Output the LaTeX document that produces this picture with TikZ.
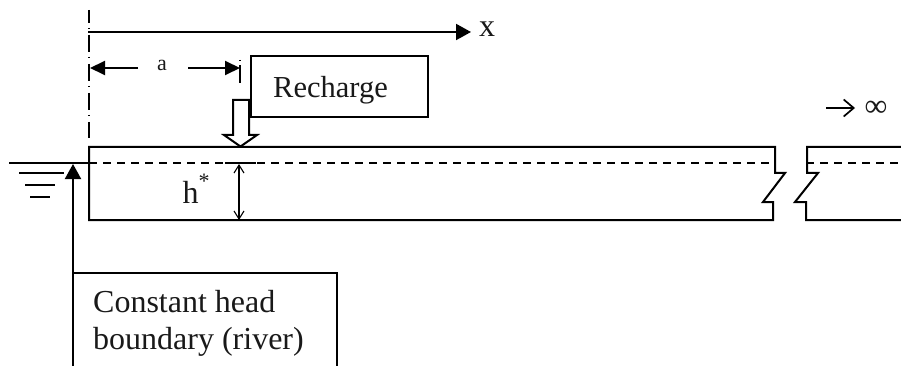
\documentclass[tikz,border=0pt]{standalone}
\usepackage{fontspec}
\setmainfont{Liberation Serif}
\usetikzlibrary{arrows.meta}
\tikzset{
  px/.style={x=1pt,y=-1pt},
  ln/.style={line width=2pt,black},
  thin line/.style={line width=1.5pt,black},
  label text/.style={inner sep=0pt,font=\fontsize{32}{36}\selectfont,text=black!90},
  rech text/.style={inner sep=0pt,font=\fontsize{30.5}{36}\selectfont,text=black!90},
  small text/.style={inner sep=0pt,font=\fontsize{22}{24}\selectfont,text=black!90},
  big head/.style={-{Triangle[length=15pt,width=16pt]}},
  open head/.style={-{Straight Barb[length=10pt,width=17pt,line width=1.7pt]}},
  dim head/.style={{Straight Barb[length=8pt,width=10pt,line width=1.1pt]}-{Straight Barb[length=8pt,width=10pt,line width=1.1pt]}},
  boxed/.style={draw,ln,inner sep=0pt,anchor=north west,fill=white},
}
\begin{document}
\begin{tikzpicture}[px]
\useasboundingbox (0,0) rectangle (901,366);
% coordinates
\coordinate (axisTop) at (89,10);
\coordinate (axisBot) at (89,138);
\coordinate (xStart) at (88,32);
\coordinate (xEnd) at (471,32);
\coordinate (aL) at (90,68);
\coordinate (aLi) at (138,68);
\coordinate (aRi) at (188,68);
\coordinate (aR) at (240,68);
\coordinate (tickT) at (240,60);
\coordinate (tickB) at (240,84);
\coordinate (hT) at (239,164);
\coordinate (hB) at (239,220);
\coordinate (riverB) at (73,366);
\coordinate (riverT) at (73,164);
% axis
\draw[ln,dash pattern=on 17pt off 5pt on 1.5pt off 5.5pt,dash phase=4pt] (axisTop) -- (axisBot);
\draw[ln,big head] (xStart) -- (xEnd);
\node[label text,anchor=base] (xlab) at (487,37) {x};
% a dimension
\draw[ln,-{Triangle[length=15pt,width=14pt]}] (aLi) -- (aL);
\draw[ln,-{Triangle[length=15pt,width=14pt]}] (aRi) -- (aR);
\draw[thin line,dash pattern=on 1.5pt off 4pt on 16pt off 0pt] (tickT) -- (tickB);
\node[small text,anchor=base] (alab) at (162,71) {a};
% recharge box
\node[boxed,minimum width=177pt,minimum height=61pt] (rech) at (250,55) {};
\node[rech text,anchor=base west] (rechlab) at (273,98) {Recharge};
% block arrow
\coordinate (bA) at (233,100);
\coordinate (bB) at (233,135);
\coordinate (bC) at (224,135);
\coordinate (bD) at (240.5,146.5);
\coordinate (bE) at (257,135);
\coordinate (bF) at (249,135);
\coordinate (bG) at (249,100);
\draw[ln,fill=white] (bA) -- (bB) -- (bC) -- (bD) -- (bE) -- (bF) -- (bG) -- cycle;
% aquifer left part
\coordinate (lTL) at (89,147);
\coordinate (lTR) at (775,147);
\coordinate (lN1) at (775,173);
\coordinate (lN2) at (785,173);
\coordinate (lN3) at (763,202);
\coordinate (lN4) at (773,202);
\coordinate (lBR) at (773,220);
\coordinate (lBL) at (89,220);
\draw[ln,line join=miter] (lN2) -- (lN1) -- (lTR) -- (lTL) -- (lBL) -- (lBR) -- (lN4) -- (lN3) -- cycle;
% aquifer right part
\coordinate (rTL) at (807,147);
\coordinate (rTR) at (901,147);
\coordinate (rN1) at (807,173);
\coordinate (rN2) at (818,173);
\coordinate (rN3) at (795,202);
\coordinate (rN4) at (806,202);
\coordinate (rBL) at (806,220);
\coordinate (rBR) at (901,220);
\draw[ln] (rTR) -- (rTL) -- (rN1) -- (rN2) -- (rN3) -- (rN4) -- (rBL) -- (rBR);
% water level
\coordinate (wS) at (9,163);
\coordinate (wD) at (89,163);
\coordinate (wE) at (775,163);
\coordinate (wR) at (806,163);
\coordinate (wRE) at (901,163);
\draw[ln] (wS) -- (wD);
\draw[ln,dash pattern=on 8pt off 6pt] (wD) -- (wE);
\draw[ln,dash pattern=on 8pt off 6pt] (wR) -- (wRE);
\coordinate (wmA) at (225,163);
\coordinate (wmB) at (256,163);
\draw[ln] (wmA) -- (wmB);
\coordinate (w1a) at (19,173);
\coordinate (w1b) at (64,173);
\coordinate (w2a) at (25,185);
\coordinate (w2b) at (55,185);
\coordinate (w3a) at (30,197);
\coordinate (w3b) at (50,197);
\draw[ln] (w1a) -- (w1b);
\draw[ln] (w2a) -- (w2b);
\draw[ln] (w3a) -- (w3b);
% h star
\draw[thin line,dim head] (hT) -- (hB);
\node[label text,anchor=base] (hlab) at (190.5,203) {h};
\node[small text,anchor=base] (hstar) at (204,189) {*};
% infinity
\coordinate (infA) at (826,108);
\coordinate (infB) at (855,108);
\draw[thin line,open head] (infA) -- (infB);
\node[label text,anchor=base west] (inf) at (864.5,117) {∞};
% river
\draw[ln,big head] (riverB) -- (riverT);
\coordinate (cTL) at (73,273);
\coordinate (cTR) at (337,273);
\coordinate (cBR) at (337,366);
\draw[ln] (cTL) -- (cTR) -- (cBR);
\node[label text,anchor=base west] (c1) at (93,312.5) {Constant head};
\node[label text,anchor=base west] (c2) at (93,349) {boundary (river)};
\end{tikzpicture}
\end{document}
